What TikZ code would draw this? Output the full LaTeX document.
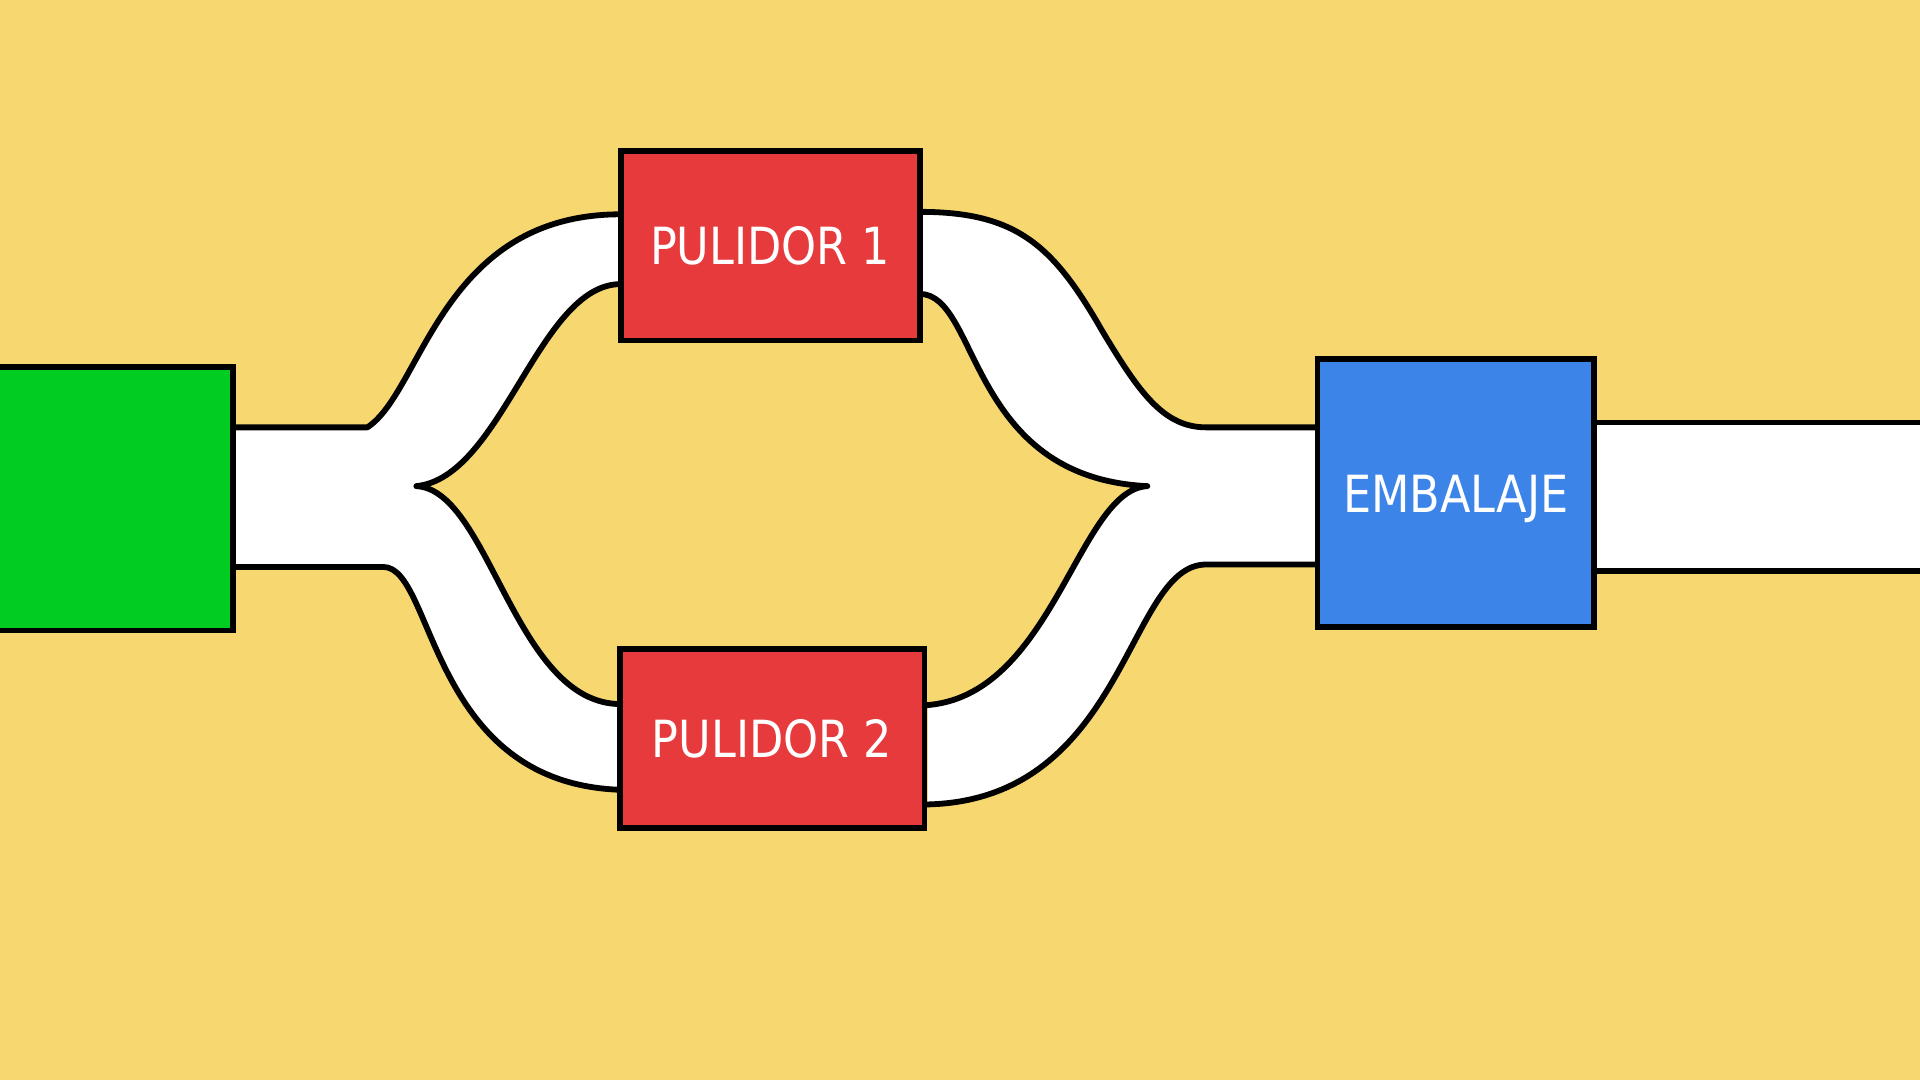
\documentclass[tikz,border=0pt]{standalone}
\usepackage{fontspec}
\setmainfont{DejaVu Sans}[FakeStretch=0.87]
\definecolor{bgyel}{RGB}{246,215,112}
\definecolor{bxgreen}{RGB}{0,204,34}
\definecolor{bxred}{RGB}{230,58,60}
\definecolor{bxblue}{RGB}{61,132,232}
\tikzset{
  chan/.style={fill=white,draw=none},
  edge/.style={draw=black,line width=1.35pt,line join=round,line cap=round},
  box/.style={draw=black,line width=1.35pt,inner sep=0pt,text=white,
    text height=3.6mm,text depth=0.44mm,
    font=\fontsize{11.9}{14}\selectfont},
}
\begin{document}
\begin{tikzpicture}[x=0.1mm,y=-0.1mm]
\useasboundingbox[fill=bgyel] (0,0) rectangle (1568,882);
% channel fills
\fill[chan] (185,349) -- (300,349) .. controls (345,320) and (360,175) .. (510,175)
  -- (510,232) .. controls (440,232) and (410,390) .. (340,397)
  .. controls (400,400) and (420,575) .. (510,575)
  -- (510,645) .. controls (350,640) and (355,463) .. (313,463) -- (185,463) -- cycle;
\fill[chan] (748,173) .. controls (830,173) and (860,200) .. (900,270)
  .. controls (930,320) and (950,349) .. (985,349) -- (1080,349) -- (1080,461) -- (985,461)
  .. controls (920,461) and (920,655) .. (758,657) -- (758,576)
  .. controls (860,570) and (880,400) .. (937,397)
  .. controls (790,390) and (800,240) .. (748,240) -- cycle;
\fill[chan] (1298,345) rectangle (1570,466);
% channel edges
\coordinate (lt) at (300,349);
\coordinate (lb) at (313,463);
\coordinate (lc) at (340,397);
\coordinate (rc) at (937,397);
\coordinate (rt) at (985,349);
\coordinate (rb) at (985,461);
\coordinate (ot) at (1570,345);
\coordinate (ob) at (1570,466);
\draw[edge] (190,349) -- (lt) .. controls (345,320) and (360,175) .. (507,175);
\draw[edge] (507,232) .. controls (440,232) and (410,390) .. (lc)
  .. controls (400,400) and (420,575) .. (507,575);
\draw[edge] (507,645) .. controls (350,640) and (355,463) .. (lb) -- (190,463);
\draw[edge] (751,173) .. controls (830,173) and (860,200) .. (900,270)
  .. controls (930,320) and (950,349) .. (rt) -- (1076,349);
\draw[edge] (751,240) .. controls (800,240) and (790,390) .. (rc)
  .. controls (880,400) and (860,570) .. (755,576);
\draw[edge] (755,657) .. controls (920,655) and (920,461) .. (rb) -- (1076,461);
\draw[edge] (1302,345) -- (ot);
\draw[edge] (1302,466) -- (ob);
% boxes
\node[box,fill=bxgreen,anchor=north west,
  minimum width=19.6mm,minimum height=21.5mm] (src) at (-8,297.5) {};
\node[box,fill=bxred,minimum width=24.4mm,minimum height=15.5mm] (p1) at (629,200.5) {PULIDOR 1};
\node[box,fill=bxred,minimum width=24.9mm,minimum height=14.6mm] (p2) at (630.5,603) {PULIDOR 2};
\node[box,fill=bxblue,minimum width=22.6mm,minimum height=21.9mm] (emb) at (1189,402.5) {EMBALAJE};
\end{tikzpicture}
\end{document}
